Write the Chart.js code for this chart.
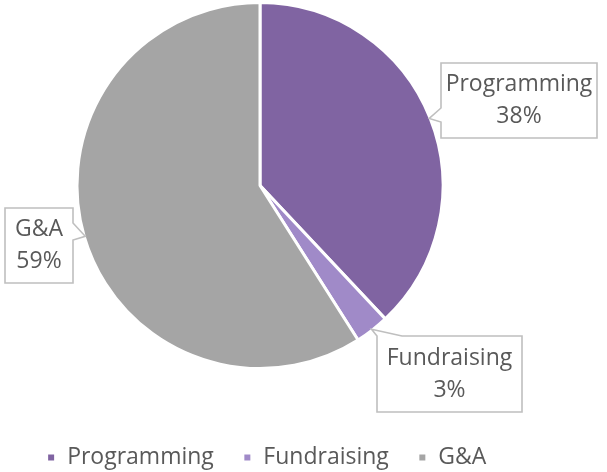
<!DOCTYPE html>
<html>
<head>
<meta charset="utf-8">
<script src="https://cdn.jsdelivr.net/npm/chart.js@4/dist/chart.umd.min.js"></script>
<style>
  html, body { margin: 0; padding: 0; background: #ffffff; }
  #wrap { width: 607px; height: 472px; position: relative; }
</style>
</head>
<body>
<div id="wrap"><canvas id="c" width="607" height="472"></canvas></div>
<script>
// ---- data ----
const categories = ['Programming', 'Fundraising', 'G&A'];
const shares = [38, 3, 59];
const shareLabels = ['38%', '3%', '59%'];

// ---- styles / layout ----
const sliceColors = ['#8064a2', '#a08ac8', '#a5a5a5'];
const textColor = '#595959';
const fontFamily = '"Open Sans", "DejaVu Sans", sans-serif';
const fontSize = 23;

const calloutLayout = [
  { box: { x: 441, y: 63, w: 156, h: 75 }, side: 'left', b0: 45, b1: 59 },
  { box: { x: 377, y: 336, w: 145, h: 76 }, side: 'top', b0: 0, b1: 25 },
  { box: { x: 5, y: 208, w: 68, h: 75 }, side: 'right', b0: 15, b1: 32 }
];

// spacer box on the right so the pie sits left of the legend's centre
const spacerPlugin = {
  id: 'spacer',
  beforeInit(chart) {
    Chart.layouts.addBox(chart, {
      position: 'right', weight: 100, fullSize: false,
      options: { display: true, position: 'right' },
      left: 0, top: 0, right: 0, bottom: 0, width: 0, height: 0,
      update(maxWidth, maxHeight) { this.width = 13; this.height = maxHeight; return {width: 13, height: maxHeight}; },
      isHorizontal() { return false; },
      getPadding() { return { left: 0, right: 0, top: 0, bottom: 0 }; },
      draw() {}
    });
  }
};

const calloutPlugin = {
  id: 'callouts',
  afterDatasetsDraw(chart) {
    const ctx = chart.ctx;
    const meta = chart.getDatasetMeta(0);
    meta.data.forEach((arc, i) => {
      const p = arc.getProps(['x', 'y', 'startAngle', 'endAngle', 'outerRadius'], true);
      const mid = (p.startAngle + p.endAngle) / 2;
      const tx = p.x + Math.cos(mid) * (p.outerRadius - 1);
      const ty = p.y + Math.sin(mid) * (p.outerRadius - 1);
      const L = calloutLayout[i];
      const b = L.box;
      const pts = [];
      const x0 = b.x, y0 = b.y, x1 = b.x + b.w, y1 = b.y + b.h;
      if (L.side === 'left') {
        pts.push([x0, y0], [x1, y0], [x1, y1], [x0, y1], [x0, y0 + L.b1], [tx, ty], [x0, y0 + L.b0]);
      } else if (L.side === 'right') {
        pts.push([x0, y0], [x1, y0], [x1, y0 + L.b0], [tx, ty], [x1, y0 + L.b1], [x1, y1], [x0, y1]);
      } else {
        pts.push([x0 + L.b0, y0], [tx, ty], [x0 + L.b1, y0], [x1, y0], [x1, y1], [x0, y1], [x0, y0]);
      }
      ctx.save();
      ctx.beginPath();
      pts.forEach((q, k) => k ? ctx.lineTo(q[0], q[1]) : ctx.moveTo(q[0], q[1]));
      ctx.closePath();
      ctx.fillStyle = '#ffffff';
      ctx.fill();
      ctx.lineWidth = 1.6;
      ctx.strokeStyle = '#bfbfbf';
      ctx.lineJoin = 'miter';
      ctx.stroke();
      ctx.fillStyle = textColor;
      ctx.font = fontSize + 'px ' + fontFamily;
      ctx.textAlign = 'center';
      ctx.textBaseline = 'middle';
      const cx = b.x + b.w / 2;
      const cy = b.y + b.h / 2;
      ctx.fillText(chart.data.labels[i], cx, cy - 16);
      ctx.fillText(shareLabels[i], cx, cy + 16);
      ctx.restore();
    });
  }
};

new Chart(document.getElementById('c'), {
  type: 'pie',
  data: {
    labels: categories,
    datasets: [{
      data: shares,
      backgroundColor: sliceColors,
      borderColor: '#ffffff',
      borderWidth: 3,
      radius: 183
    }]
  },
  options: {
    responsive: false,
    animation: false,
    layout: { padding: { left: 0, right: 74, top: 0, bottom: -7 } },
    plugins: {
      tooltip: { enabled: false },
      legend: {
        position: 'bottom',
        title: {
          display: true,
          text: ' ',
          color: 'rgba(0,0,0,0)',
          font: { size: 10, lineHeight: 1.2 },
          padding: 17
        },
        labels: {
          color: textColor,
          font: { family: fontFamily, size: fontSize },
          boxWidth: 9,
          boxHeight: 9,
          padding: 29
        }
      }
    }
  },
  plugins: [spacerPlugin, calloutPlugin]
});
</script>
</body>
</html>
